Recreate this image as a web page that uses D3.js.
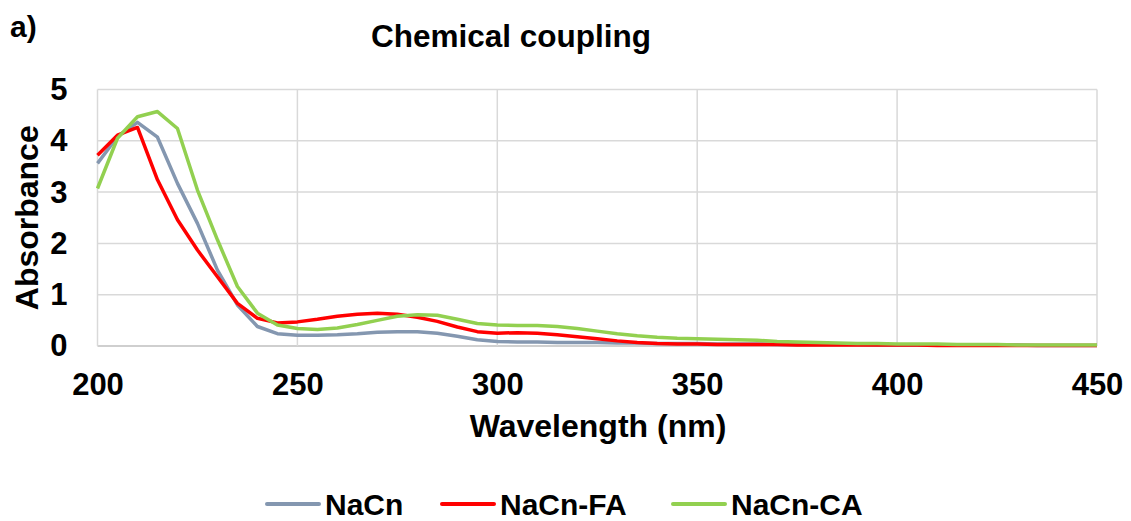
<!DOCTYPE html>
<html>
<head>
<meta charset="utf-8">
<script src="https://cdn.jsdelivr.net/npm/d3@7"></script>
<style>
  body { margin: 0; background: #fff; }
  text { font-family: Arial, "Liberation Sans", sans-serif; font-weight: bold; }
</style>
</head>
<body>
<div id="chart-area"></div>
<script>
// --- Data ---
var wavelengths = [200, 205, 210, 215, 220, 225, 230, 235, 240, 245, 250, 255, 260, 265, 270, 275, 280, 285, 290, 295,
  300, 305, 310, 315, 320, 325, 330, 335, 340, 345, 350, 355, 360, 365, 370, 375, 380, 385, 390, 395,
  400, 405, 410, 415, 420, 425, 430, 435, 440, 445, 450];
var nacn = [3.56, 4.08, 4.36, 4.07, 3.17, 2.39, 1.48, 0.80, 0.38, 0.24, 0.21, 0.21, 0.22, 0.24, 0.27, 0.28, 0.28, 0.25, 0.19, 0.12,
  0.09, 0.08, 0.08, 0.07, 0.07, 0.07, 0.06, 0.06, 0.05, 0.05, 0.05, 0.04, 0.04, 0.04, 0.03, 0.03, 0.03, 0.03, 0.03, 0.02,
  0.02, 0.02, 0.02, 0.02, 0.02, 0.02, 0.02, 0.01, 0.01, 0.01, 0.01];
var nacnFA = [3.72, 4.11, 4.26, 3.24, 2.46, 1.87, 1.35, 0.83, 0.54, 0.45, 0.47, 0.52, 0.58, 0.62, 0.64, 0.62, 0.56, 0.48, 0.37, 0.28,
  0.25, 0.26, 0.25, 0.22, 0.18, 0.14, 0.10, 0.07, 0.05, 0.04, 0.04, 0.03, 0.03, 0.03, 0.03, 0.02, 0.02, 0.02, 0.02, 0.02,
  0.02, 0.02, 0.01, 0.01, 0.01, 0.01, 0.01, 0.01, 0.01, 0.01, 0.01];
var nacnCA = [3.07, 4.05, 4.47, 4.57, 4.24, 3.04, 2.07, 1.16, 0.64, 0.41, 0.34, 0.32, 0.35, 0.42, 0.50, 0.58, 0.61, 0.60, 0.52, 0.44,
  0.41, 0.40, 0.40, 0.38, 0.34, 0.29, 0.24, 0.20, 0.17, 0.15, 0.14, 0.13, 0.12, 0.11, 0.09, 0.08, 0.07, 0.06, 0.05, 0.05,
  0.04, 0.04, 0.04, 0.03, 0.03, 0.03, 0.02, 0.02, 0.02, 0.02, 0.02];
var seriesNames = ["NaCn", "NaCn-FA", "NaCn-CA"];
var seriesColors = ["#8497b0", "#ff0000", "#92d050"];
var xTicks = [200, 250, 300, 350, 400, 450];
var yTicks = [0, 1, 2, 3, 4, 5];

// --- Setup the canvas ---
var canvasWidth = 1131;
var canvasHeight = 521;
var canvas = d3.select("#chart-area").append("svg")
  .attr("width", canvasWidth)
  .attr("height", canvasHeight);

var margins = {top: 89.5, bottom: 175, left: 97.5, right: 34};
var graphWidth = canvasWidth - margins.left - margins.right;
var graphHeight = canvasHeight - margins.top - margins.bottom;
var graph = canvas.append("g")
  .attr("transform", "translate(" + margins.left + "," + margins.top + ")");

// --- Scales ---
var xScale = d3.scaleLinear().domain([200, 450]).range([0, graphWidth]);
var yScale = d3.scaleLinear().domain([0, 5]).range([graphHeight, 0]);

// --- Gridlines ---
graph.append("g").selectAll("line").data(yTicks).enter().append("line")
  .attr("x1", 0).attr("x2", graphWidth)
  .attr("y1", (d) => yScale(d)).attr("y2", (d) => yScale(d))
  .attr("stroke", (d) => d === 0 ? "#bfbfbf" : "#d9d9d9")
  .attr("stroke-width", 1.5);
graph.append("g").selectAll("line").data(xTicks).enter().append("line")
  .attr("x1", (d) => xScale(d)).attr("x2", (d) => xScale(d))
  .attr("y1", 0).attr("y2", graphHeight)
  .attr("stroke", "#d9d9d9")
  .attr("stroke-width", 1.5);

// --- Axes (labels only) ---
var xAxis = d3.axisBottom(xScale).tickValues(xTicks).tickFormat(d3.format("d")).tickSize(0).tickPadding(27);
var yAxis = d3.axisLeft(yScale).tickValues(yTicks).tickFormat(d3.format("d")).tickSize(0).tickPadding(30);
var xAxisGroup = graph.append("g")
  .attr("transform", "translate(0," + graphHeight + ")")
  .call(xAxis);
var yAxisGroup = graph.append("g").call(yAxis);
[xAxisGroup, yAxisGroup].forEach((g) => {
  g.select(".domain").remove();
  g.selectAll("text").attr("font-size", "31px").attr("fill", "#000")
    .style("font-family", "Arial, 'Liberation Sans', sans-serif").style("font-weight", "bold");
});

// --- Lines ---
var allSeries = [nacn, nacnFA, nacnCA];
var line = d3.line()
  .x((d, i) => xScale(wavelengths[i]))
  .y((d) => yScale(d));
allSeries.forEach((values, i) => {
  graph.append("path")
    .datum(values)
    .attr("fill", "none")
    .attr("stroke", seriesColors[i])
    .attr("stroke-width", 3.5)
    .attr("stroke-linejoin", "round")
    .attr("d", line);
});

// --- Labels ---
canvas.append("text")
  .text("a)")
  .attr("x", 10).attr("y", 37)
  .attr("font-size", "30px");
canvas.append("text")
  .text("Chemical coupling")
  .attr("x", 511).attr("y", 47)
  .attr("text-anchor", "middle")
  .attr("font-size", "31.5px");
canvas.append("text")
  .text("Wavelength (nm)")
  .attr("x", 598).attr("y", 437)
  .attr("text-anchor", "middle")
  .attr("font-size", "32px");
canvas.append("text")
  .text("Absorbance")
  .attr("transform", "translate(38," + (margins.top + graphHeight / 2) + ") rotate(-90)")
  .attr("text-anchor", "middle")
  .attr("font-size", "32px");

// --- Legend ---
var legendX = [267, 442, 673];
var legend = canvas.append("g");
seriesNames.forEach((name, i) => {
  var row = legend.append("g").attr("transform", "translate(" + legendX[i] + ",504)");
  row.append("line")
    .attr("x1", 0).attr("x2", 52)
    .attr("y1", 0).attr("y2", 0)
    .attr("stroke", seriesColors[i])
    .attr("stroke-width", 4)
    .attr("stroke-linecap", "round");
  row.append("text")
    .text(name)
    .attr("x", 58).attr("y", 11)
    .attr("font-size", "30px");
});
</script>
</body>
</html>
